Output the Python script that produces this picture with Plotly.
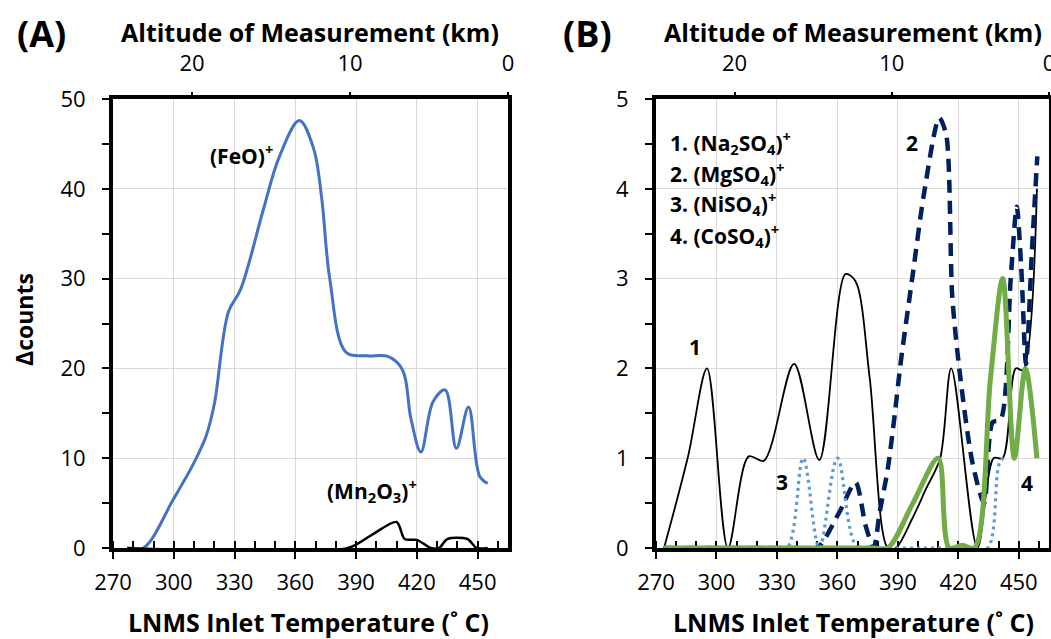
import plotly.graph_objects as go

# ---------------- data ----------------
# Panel A
feo_temp = [277, 285, 300, 310, 316, 320, 327, 333, 344, 352, 362, 369, 373, 377, 385, 395, 406, 413, 417, 422, 428, 434, 439.5, 445.5, 451, 455]
feo_counts = [0, 0, 5.5, 9.5, 12.5, 16, 26.3, 28.8, 37.5, 43.5, 47.6, 44.5, 39, 30, 21.8, 21.4, 21.3, 19.8, 14.5, 10.7, 16.3, 17.6, 11.1, 15.7, 8.0, 7.2]

mn_temp = [277, 386, 398, 410, 414, 420, 427, 431, 435, 445, 449.5, 455]
mn_counts = [0, 0, 1.5, 2.9, 1.0, 0.9, 0, 0, 1.0, 1.0, 0, 0]

# Panel B
na_temp = [274, 286, 295.3, 305.7, 316, 323.5, 338.5, 351, 364, 369, 376, 385, 389, 397, 404, 411, 416.5, 429.5, 437.5, 442, 448.5, 452, 459]
na_counts = [0, 1.03, 2.0, 0, 1.02, 0.97, 2.05, 0.98, 3.05, 2.97, 1.9, 0, 0, 0.32, 0.66, 1.0, 2.0, 0, 1.0, 1.0, 2.0, 1.98, 4.0]

mg_temp = [274, 340, 350, 361, 369, 374, 378, 381, 385, 388, 391.5, 397.3, 403, 410.5, 414, 417, 421, 427, 432.8, 437, 441, 446, 449, 451.2, 453.6, 456.5, 459.2]
mg_counts = [0, 0, 0, 0.4, 0.73, 0.25, 0, 0.4, 0.88, 1.4, 2.08, 3.03, 3.95, 4.79, 4.6, 2.8, 1.9, 0.95, 0.5, 1.4, 1.43, 3.0, 3.8, 3.14, 2.05, 3.3, 4.36]

ni_temp = [274, 327, 335, 343, 351, 360, 370, 380, 426, 434.5, 440.5, 443.5]
ni_counts = [0, 0, 0, 1.0, 0, 1.0, 0, 0, 0, 0, 0.95, 1.02]

co_temp = [274, 370, 378, 385, 397.5, 410, 415.5, 422, 428, 436, 442, 447.8, 453.3, 459]
co_counts = [0, 0, 0, 0, 0.5, 1.0, 0, 0.03, 0, 1.9, 3.0, 1.0, 2.0, 1.0]

temp_ticks = [270, 300, 330, 360, 390, 420, 450]
alt_ticks = [20, 10, 0]
alt_range = [25, 0]

# ---------------- layout helpers ----------------
W, H = 1051, 639
FONT = "'Open Sans', Calibri, sans-serif"


def px(x):
    return x / W


def py(y):
    return 1 - y / H


GRID = "#D9D9D9"

fig = go.Figure()

# Panel A traces
fig.add_trace(go.Scatter(x=feo_temp, y=feo_counts, mode="lines",
                         line=dict(color="#4472C4", width=3, shape="spline", smoothing=1),
                         xaxis="x", yaxis="y", showlegend=False))
fig.add_trace(go.Scatter(x=mn_temp, y=mn_counts, mode="lines",
                         line=dict(color="black", width=2.5, shape="spline", smoothing=0.8),
                         xaxis="x", yaxis="y", showlegend=False))
# dummy trace to register top altitude axis of A
fig.add_trace(go.Scatter(x=alt_range, y=[None, None], mode="lines", xaxis="x3", yaxis="y",
                         showlegend=False, hoverinfo="skip"))

# Panel B traces
fig.add_trace(go.Scatter(x=na_temp, y=na_counts, mode="lines",
                         line=dict(color="black", width=1.8, shape="spline", smoothing=0.9),
                         xaxis="x2", yaxis="y2", showlegend=False))
fig.add_trace(go.Scatter(x=mg_temp, y=mg_counts, mode="lines",
                         line=dict(color="#002060", width=4.5, dash="13px,8px", shape="spline", smoothing=0.75),
                         xaxis="x2", yaxis="y2", showlegend=False))
fig.add_trace(go.Scatter(x=ni_temp, y=ni_counts, mode="lines",
                         line=dict(color="#5B9BD5", width=3.2, dash="3px,4px", shape="spline", smoothing=1),
                         xaxis="x2", yaxis="y2", showlegend=False))
fig.add_trace(go.Scatter(x=co_temp, y=co_counts, mode="lines",
                         line=dict(color="#70AD47", width=5, shape="spline", smoothing=0.9),
                         xaxis="x2", yaxis="y2", showlegend=False))
fig.add_trace(go.Scatter(x=alt_range, y=[None, None], mode="lines", xaxis="x4", yaxis="y2",
                         showlegend=False, hoverinfo="skip"))

ydom = [py(548), py(99)]
tickfont = dict(family=FONT, size=22, color="black")


def xbottom(dom, anchor):
    return dict(domain=dom, anchor=anchor, range=[270, 465], tickmode="array", tickvals=temp_ticks,
                ticks="outside", ticklen=7, tickwidth=2, tickcolor="black",
                minor=dict(dtick=10, tick0=270, ticks="inside", ticklen=7, tickwidth=2, tickcolor="black",
                           showgrid=False),
                showgrid=True, gridcolor=GRID, gridwidth=1,
                showline=True, linecolor="black", linewidth=4, mirror=True,
                tickfont=tickfont, ticklabelstandoff=5, zeroline=False, layer="below traces",
                automargin=False)


def yleft(dom, anchor, rng, dt):
    return dict(domain=dom, anchor=anchor, range=rng, dtick=dt, tick0=0,
                ticks="outside", ticklen=7, tickwidth=2, tickcolor="black",
                minor=dict(dtick=dt / 2, ticks="outside", ticklen=7, tickwidth=2, tickcolor="black",
                           showgrid=False),
                showgrid=True, gridcolor=GRID, gridwidth=1,
                showline=True, linecolor="black", linewidth=4, mirror=True,
                tickfont=tickfont, ticklabelstandoff=12, zeroline=False, layer="below traces",
                automargin=False)


def xtop(over, anchor):
    return dict(overlaying=over, anchor=anchor, side="top", range=alt_range, tickmode="array",
                tickvals=alt_ticks, ticks="outside", ticklen=6, tickwidth=2, tickcolor="black",
                showgrid=False, showline=False, zeroline=False, tickfont=tickfont,
                ticklabelstandoff=12, automargin=False, ticklabeloverflow="allow")


fig.update_layout(
    width=W, height=H,
    margin=dict(l=0, r=0, t=0, b=0, autoexpand=False),
    paper_bgcolor="white", plot_bgcolor="white",
    font=dict(family=FONT, color="black"),
    xaxis=xbottom([px(113), px(508)], "y"),
    yaxis=yleft(ydom, "x", [0, 50], 10),
    xaxis3=xtop("x", "y"),
    xaxis2=xbottom([px(656), px(1049)], "y2"),
    yaxis2=yleft(ydom, "x2", [0, 5], 1),
    xaxis4=xtop("x2", "y2"),
)

ann = []


def add_text(text, x, y, size, bold=True, xanchor="center", yanchor="middle", angle=0):
    ann.append(dict(text=f"<b>{text}</b>" if bold else text, x=px(x), y=py(y), xref="paper", yref="paper",
                    showarrow=False, xanchor=xanchor, yanchor=yanchor, textangle=angle,
                    font=dict(family=FONT, size=size, color="black")))


# Panel A texts
add_text("(A)", 41, 34, 36)
add_text("Altitude of Measurement (km)", 310, 32, 25)
add_text("LNMS Inlet Temperature (˚ C)", 308, 622, 25)
add_text("Δcounts", 24, 320, 23, angle=-90)
add_text("(FeO)<sup>+</sup>", 241, 155, 21)
add_text("(Mn<sub>2</sub>O<sub>3</sub>)<sup>+</sup>", 372, 490, 21)

# Panel B texts
add_text("(B)", 587, 34, 36)
add_text("Altitude of Measurement (km)", 853, 32, 25)
add_text("LNMS Inlet Temperature (˚ C)", 853, 622, 25)
legend_lines = ["1. (Na<sub>2</sub>SO<sub>4</sub>)<sup>+</sup>",
                "2. (MgSO<sub>4</sub>)<sup>+</sup>",
                "3. (NiSO<sub>4</sub>)<sup>+</sup>",
                "4. (CoSO<sub>4</sub>)<sup>+</sup>"]
for i, t in enumerate(legend_lines):
    add_text(t, 668, 142 + 31 * i, 21, xanchor="left")
add_text("1", 695, 347, 21)
add_text("2", 912, 143, 21)
add_text("3", 782, 482, 21)
add_text("4", 1027, 483, 21)

fig.update_layout(annotations=ann)

fig.write_html("out.html", config={"displayModeBar": False},
               post_script="document.body.style.margin='0';")
